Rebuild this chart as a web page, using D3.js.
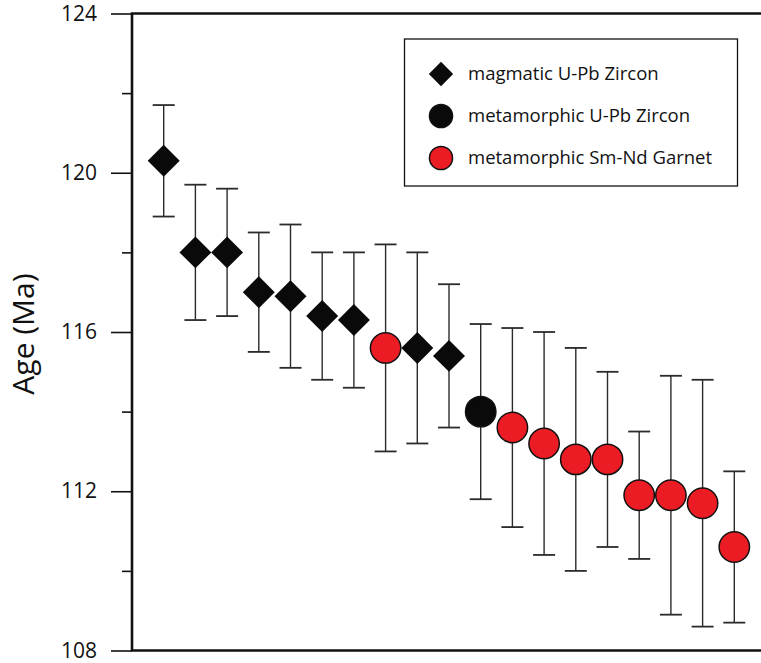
<!DOCTYPE html>
<html>
<head>
<meta charset="utf-8">
<script src="https://cdn.jsdelivr.net/npm/d3@7"></script>
<style>
  html, body { margin: 0; padding: 0; background: #fff; }
  svg { display: block; }
  text { font-family: "Open Sans", "Noto Sans", sans-serif; fill: #111; }
</style>
</head>
<body>
<svg id="chart" width="761" height="663"></svg>
<script>
// Sample ages (Ma) with 2-sigma bounds, ordered from oldest to youngest
const ages  = [120.3, 118.0, 118.0, 117.0, 116.9, 116.4, 116.3, 115.6, 115.6, 115.4, 114.0, 113.6, 113.2, 112.8, 112.8, 111.9, 111.9, 111.7, 110.6];
const upper = [121.7, 119.7, 119.6, 118.5, 118.7, 118.0, 118.0, 118.2, 118.0, 117.2, 116.2, 116.1, 116.0, 115.6, 115.0, 113.5, 114.9, 114.8, 112.5];
const lower = [118.9, 116.3, 116.4, 115.5, 115.1, 114.8, 114.6, 113.0, 113.2, 113.6, 111.8, 111.1, 110.4, 110.0, 110.6, 110.3, 108.9, 108.6, 108.7];
const methods = ["mag", "mag", "mag", "mag", "mag", "mag", "mag", "grt", "mag", "mag", "met", "grt", "grt", "grt", "grt", "grt", "grt", "grt", "grt"];

const legendKeys   = ["mag", "met", "grt"];
const legendLabels = ["magmatic U-Pb Zircon", "metamorphic U-Pb Zircon", "metamorphic Sm-Nd Garnet"];
const majorTicks = [108, 112, 116, 120, 124];
const minorTicks = [110, 114, 118, 122];

const svg = d3.select("#chart");
const plotLeft = 132, plotTop = 13.5, plotBottom = 650.5, step = 31.7;

const x = d3.scaleLinear().domain([-1, 19]).range([plotLeft, plotLeft + 20 * step]);
const y = d3.scaleLinear().domain([108, 124]).range([plotBottom, plotTop]);

const RED = "#ec1c24";

// y axis: labelled major ticks and short minor ticks
const gAxis = svg.append("g").attr("transform", `translate(${plotLeft},0)`);
gAxis.call(d3.axisLeft(y).tickValues(majorTicks).tickSize(21).tickPadding(14).tickFormat(d3.format("d")))
  .call(g => g.select(".domain").remove())
  .call(g => g.selectAll(".tick line").attr("stroke", "#111").attr("stroke-width", 1.6))
  .call(g => g.selectAll(".tick text").attr("font-size", 21).attr("fill", "#111")
                .attr("font-family", "'Open Sans', sans-serif"));
const gMinor = svg.append("g").attr("transform", `translate(${plotLeft},0)`);
gMinor.call(d3.axisLeft(y).tickValues(minorTicks).tickSize(10).tickFormat(""))
  .call(g => g.select(".domain").remove())
  .call(g => g.selectAll(".tick line").attr("stroke", "#111").attr("stroke-width", 1.6));

// plot frame (left, top, bottom)
svg.append("path")
  .attr("d", `M761,${plotTop}H${plotLeft}V${plotBottom}H761`)
  .attr("fill", "none").attr("stroke", "#111").attr("stroke-width", 2.6);

// axis title
svg.append("text")
  .attr("transform", `translate(34,${(plotTop + plotBottom) / 2 + 2}) rotate(-90)`)
  .attr("text-anchor", "middle")
  .attr("font-size", 30)
  .text("Age (Ma)");

const idx = d3.range(ages.length);

// error bars
const eb = svg.append("g").attr("stroke", "#2b2b2b").attr("stroke-width", 1.4);
eb.selectAll("line.stem").data(idx).join("line").attr("class", "stem")
  .attr("x1", i => x(i)).attr("x2", i => x(i))
  .attr("y1", i => y(upper[i])).attr("y2", i => y(lower[i]));
eb.selectAll("line.capT").data(idx).join("line").attr("class", "capT")
  .attr("x1", i => x(i) - 11).attr("x2", i => x(i) + 11)
  .attr("y1", i => y(upper[i])).attr("y2", i => y(upper[i])).attr("stroke-width", 1.8);
eb.selectAll("line.capB").data(idx).join("line").attr("class", "capB")
  .attr("x1", i => x(i) - 11).attr("x2", i => x(i) + 11)
  .attr("y1", i => y(lower[i])).attr("y2", i => y(lower[i])).attr("stroke-width", 1.8);

// markers
function drawMarker(g, kind, cx, cy, scale) {
  if (kind === "mag") {
    const side = 22.6 * scale;
    g.append("path")
      .attr("d", d3.symbol(d3.symbolSquare, side * side)())
      .attr("transform", `translate(${cx},${cy}) rotate(45)`)
      .attr("fill", "#0a0a0a");
  } else {
    g.append("circle")
      .attr("cx", cx).attr("cy", cy).attr("r", 15.2 * scale)
      .attr("fill", kind === "met" ? "#0a0a0a" : RED)
      .attr("stroke", "#111").attr("stroke-width", 1.5);
  }
}
const gm = svg.append("g");
idx.forEach(i => drawMarker(gm, methods[i], x(i), y(ages[i]), 1));

// legend
const lg = svg.append("g");
lg.append("rect")
  .attr("x", 404.5).attr("y", 39).attr("width", 333).attr("height", 147)
  .attr("fill", "#fff").attr("stroke", "#111").attr("stroke-width", 1.3);
const legendY = [74, 116, 158];
legendKeys.forEach((k, j) => {
  drawMarker(lg, k, 441, legendY[j], 0.76);
  lg.append("text")
    .attr("x", 468).attr("y", legendY[j]).attr("dy", "0.35em")
    .attr("font-size", 18.5)
    .text(legendLabels[j]);
});
</script>
</body>
</html>
